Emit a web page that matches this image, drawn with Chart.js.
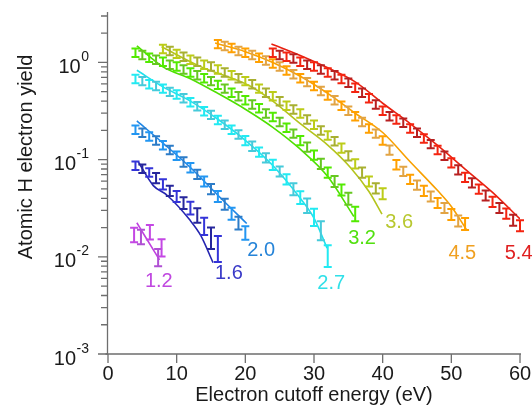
<!DOCTYPE html>
<html><head><meta charset="utf-8">
<script src="https://cdn.jsdelivr.net/npm/chart.js@4.4.1/dist/chart.umd.min.js"></script>
<style>html,body{margin:0;padding:0;background:#fff;}#wrap{width:532px;height:417px;position:relative;}</style>
</head><body><div id="wrap"><canvas id="c"></canvas></div>
<script>
// ---------- DATA ----------
const seriesNames = ['1.2','1.6','2.0','2.7','3.2','3.6','4.5','5.4'];

const x12 = [3.8, 4.8, 6.1, 7.3, 7.8];
const y12 = [0.017, 0.0162, 0.0182, 0.010, 0.0126];
const e12 = [0.17, 0.17, 0.17, 0.2, 0.2];
const tx12 = [4.2, 5.5, 7.5];
const ty12 = [0.0224, 0.0158, 0.0093];

const x16 = [4,5,6,7,8,9,10,11,12,13,14,15,16];
const y16 = [0.087,0.081,0.074,0.065,0.056,0.048,0.042,0.036,0.032,0.027,0.021,0.016,0.0126];
const e16 = [0.1,0.1,0.1,0.12,0.12,0.12,0.13,0.14,0.15,0.17,0.2,0.25,0.3];
const tx16 = [4.4, 6.6, 8.6, 11.9, 13.5, 15.3];
const ty16 = [0.095, 0.054, 0.043, 0.024, 0.0166, 0.0087];

const x20 = [4,5,6,7,8,9,10,11,12,13,14,15,16,17,18,19,20];
const y20 = [0.204,0.19,0.174,0.158,0.141,0.126,0.11,0.095,0.083,0.071,0.060,0.050,0.042,0.035,0.028,0.0224,0.0178];
const e20 = [0.1,0.1,0.1,0.1,0.1,0.1,0.1,0.11,0.11,0.11,0.12,0.12,0.13,0.13,0.14,0.15,0.16];
const tx20 = [4.2, 8, 12, 16, 20.2];
const ty20 = [0.25, 0.148, 0.083, 0.043, 0.022];

const x27 = [4,5,6,7,8,9,10,11,12,13,14,15,16,17,18,19,20,21,22,23,24,25,26,27,28,29,30,31,32];
const y27 = [0.68,0.645,0.60,0.575,0.54,0.50,0.47,0.43,0.39,0.355,0.316,0.29,0.257,0.229,0.204,0.182,0.158,0.138,0.12,0.105,0.089,0.076,0.063,0.050,0.041,0.034,0.026,0.019,0.0105];
const e27 = [0.1,0.1,0.1,0.1,0.1,0.1,0.1,0.1,0.1,0.1,0.1,0.1,0.1,0.1,0.1,0.1,0.11,0.11,0.11,0.11,0.12,0.12,0.12,0.14,0.15,0.17,0.2,0.22,0.25];
const tx27 = [4.2, 8, 12, 16, 20, 24, 28, 30, 31.9];
const ty27 = [0.83, 0.56, 0.40, 0.26, 0.158, 0.087, 0.040, 0.025, 0.0123];

const x32 = [4,5,6,7,8,9,10,11,12,13,14,15,16,17,18,19,20,21,22,23,24,25,26,27,28,29,30,31,32,33,34,35,36];
const y32 = [1.26,1.20,1.12,1.07,1.02,0.95,0.91,0.85,0.79,0.74,0.69,0.645,0.59,0.54,0.49,0.45,0.41,0.37,0.34,0.30,0.275,0.245,0.214,0.186,0.158,0.135,0.112,0.091,0.074,0.060,0.049,0.040,0.028];
const e32 = [0.1,0.1,0.1,0.1,0.1,0.1,0.1,0.1,0.1,0.1,0.1,0.1,0.1,0.1,0.1,0.1,0.1,0.1,0.1,0.1,0.1,0.1,0.1,0.1,0.11,0.11,0.11,0.12,0.12,0.13,0.13,0.14,0.17];
const tx32 = [4.2, 8, 12, 16, 20, 24, 28, 32, 35.8];
const ty32 = [1.48, 0.90, 0.68, 0.48, 0.33, 0.215, 0.128, 0.067, 0.026];

const x36 = [8,9,10,11,12,13,14,15,16,17,18,19,20,21,22,23,24,25,26,27,28,29,30,31,32,33,34,35,36,37,38,39,40];
const y36 = [1.38,1.32,1.23,1.15,1.07,1.02,0.95,0.91,0.85,0.79,0.74,0.69,0.645,0.60,0.54,0.49,0.45,0.40,0.36,0.33,0.30,0.26,0.23,0.20,0.178,0.155,0.132,0.11,0.091,0.074,0.060,0.051,0.045];
const e36 = [0.1,0.1,0.1,0.1,0.1,0.1,0.1,0.1,0.1,0.1,0.1,0.1,0.1,0.1,0.1,0.1,0.1,0.1,0.1,0.1,0.1,0.1,0.1,0.1,0.1,0.1,0.11,0.11,0.11,0.12,0.12,0.12,0.13];
const tx36 = [7.8, 13.4, 20.6, 24, 28, 32, 35.3, 38, 39.9];
const ty36 = [1.45, 0.91, 0.575, 0.40, 0.234, 0.141, 0.083, 0.047, 0.0275];

const x45 = [16,17,18,19,20,21,22,23,24,25,26,27,28,29,30,31,32,33,34,35,36,37,38,39,40,41,42,43,44,45,46,47,48,49,50,51,52];
const y45 = [1.55,1.48,1.41,1.32,1.26,1.20,1.12,1.05,0.98,0.91,0.83,0.76,0.69,0.63,0.575,0.51,0.46,0.41,0.36,0.32,0.28,0.245,0.21,0.186,0.158,0.126,0.089,0.076,0.063,0.055,0.048,0.042,0.036,0.032,0.0275,0.0235,0.022];
const e45 = [0.1,0.1,0.1,0.1,0.1,0.1,0.1,0.1,0.1,0.1,0.1,0.1,0.1,0.1,0.1,0.1,0.1,0.1,0.1,0.1,0.1,0.1,0.1,0.1,0.1,0.11,0.11,0.11,0.11,0.11,0.12,0.12,0.12,0.12,0.13,0.13,0.14];
const tx45 = [15.6, 20, 24, 28, 32, 36, 40, 44, 48, 50, 52.3];
const ty45 = [1.58, 1.29, 1.0, 0.72, 0.48, 0.30, 0.19, 0.095, 0.048, 0.033, 0.0186];

const x54 = [24,25,26,27,28,29,30,31,32,33,34,35,36,37,38,39,40,41,42,43,44,45,46,47,48,49,50,51,52,53,54,55,56,57,58,59,60];
const y54 = [1.26,1.20,1.15,1.10,1.02,0.95,0.91,0.85,0.79,0.74,0.68,0.62,0.55,0.49,0.43,0.37,0.32,0.28,0.26,0.24,0.21,0.19,0.166,0.145,0.126,0.11,0.093,0.079,0.066,0.058,0.050,0.043,0.037,0.032,0.028,0.024,0.021];
const e54 = [0.1,0.1,0.1,0.1,0.1,0.1,0.1,0.1,0.1,0.1,0.1,0.1,0.1,0.1,0.1,0.1,0.1,0.1,0.1,0.1,0.1,0.1,0.1,0.1,0.1,0.1,0.11,0.11,0.11,0.11,0.11,0.12,0.12,0.12,0.12,0.13,0.13];
const tx54 = [23.8, 28, 32, 36, 40, 44, 48, 52, 56, 60];
const ty54 = [1.55, 1.18, 0.88, 0.63, 0.38, 0.235, 0.14, 0.08, 0.046, 0.0245];

const xTicks = [0, 10, 20, 30, 40, 50, 60];
const yDecades = [0.001, 0.01, 0.1, 1];
const yDecadeExp = ['-3', '-2', '-1', '0'];
const xTitle = 'Electron cutoff energy (eV)';
const yTitle = 'Atomic H electron yield';

// ---------- STYLE ----------
const FONT = '"Liberation Sans", Arial, sans-serif';
const styles = [
  {bars:['#c448e4','#b050d4'], line:'#c040e0', text:'#c048e0', at:[7.4, 0.0056]},
  {bars:['#3434d8','#26269c'], line:'#2424b0', text:'#3a3ac8', at:[17.6, 0.0067]},
  {bars:['#2296f2','#2c7cc8'], line:'#1e86e6', text:'#2684d8', at:[22.3, 0.0116]},
  {bars:['#22eaf2','#46cada'], line:'#20e0ec', text:'#30e0e8', at:[32.5, 0.0053]},
  {bars:['#52ea00','#66c820'], line:'#4ee000', text:'#52e010', at:[37.0, 0.0155]},
  {bars:['#bccc18','#a8b030'], line:'#b4c41c', text:'#b8c830', at:[42.4, 0.0225]},
  {bars:['#ffa000','#e2a444'], line:'#f8a000', text:'#f0a020', at:[51.6, 0.0107]},
  {bars:['#f42410','#b82020'], line:'#e82010', text:'#e02020', at:[59.8, 0.0107]}
];

const allSeries = [
  [x12,y12,e12,tx12,ty12],[x16,y16,e16,tx16,ty16],[x20,y20,e20,tx20,ty20],[x27,y27,e27,tx27,ty27],
  [x32,y32,e32,tx32,ty32],[x36,y36,e36,tx36,ty36],[x45,y45,e45,tx45,ty45],[x54,y54,e54,tx54,ty54]
];

const datasets = [];
allSeries.forEach((s, k) => {
  const [xs, ys, es, txs, tys] = s;
  datasets.push({
    label: seriesNames[k] + ' theory',
    data: txs.map((x, i) => ({x, y: tys[i]})),
    borderColor: styles[k].line, borderWidth: 1.6, pointRadius: 0,
    cubicInterpolationMode: 'monotone', fill: false
  });
  datasets.push({
    label: seriesNames[k],
    data: xs.map((x, i) => ({x, y: ys[i]})),
    showLine: false, pointRadius: 0,
    errFrac: es, barColors: styles[k].bars
  });
});

const overlay = {
  id: 'overlay',
  afterDatasetsDraw(chart) {
    const ctx = chart.ctx, X = chart.scales.x, Y = chart.scales.y;
    ctx.save();
    ctx.lineWidth = 2;
    ctx.lineCap = 'butt';
    chart.data.datasets.forEach(ds => {
      if (!ds.errFrac) return;
      ds.data.forEach((p, i) => {
        const e = ds.errFrac[i];
        const px = X.getPixelForValue(p.x);
        const yt = Y.getPixelForValue(p.y * (1 + e));
        const yb = Y.getPixelForValue(p.y * (1 - e));
        ctx.strokeStyle = ds.barColors[i % 2];
        ctx.beginPath();
        ctx.moveTo(px, yt); ctx.lineTo(px, yb);
        ctx.moveTo(px - 4, yt); ctx.lineTo(px + 4, yt);
        ctx.moveTo(px - 4, yb); ctx.lineTo(px + 4, yb);
        ctx.stroke();
      });
    });
    ctx.restore();
  },
  afterDraw(chart) {
    const ctx = chart.ctx, X = chart.scales.x, Y = chart.scales.y, A = chart.chartArea;
    ctx.save();
    ctx.strokeStyle = '#6e6e6e'; ctx.lineWidth = 1.3;
    const ax = A.left - 0.5, ay = A.bottom;
    ctx.beginPath();
    ctx.moveTo(ax, A.top); ctx.lineTo(ax, ay);
    ctx.moveTo(ax - 2, ay); ctx.lineTo(A.right + 1, ay);
    ctx.stroke();
    ctx.beginPath();
    yDecades.forEach(d => {
      for (let m = 1; m <= 9; m++) {
        const v = d * m;
        if (v > Y.max * 1.0001) break;
        const py = Y.getPixelForValue(v);
        ctx.moveTo(ax - (m === 1 ? 9.5 : 6.5), py); ctx.lineTo(ax, py);
      }
    });
    xTicks.forEach(t => {
      const px = X.getPixelForValue(t);
      ctx.moveTo(px, ay); ctx.lineTo(px, ay + 9);
    });
    ctx.stroke();
    ctx.fillStyle = '#1a1a1a';
    ctx.font = '20px ' + FONT; ctx.textAlign = 'center'; ctx.textBaseline = 'alphabetic';
    xTicks.forEach(t => ctx.fillText(String(t), X.getPixelForValue(t), 379.5));
    yDecades.forEach((d, i) => {
      const py = Y.getPixelForValue(d);
      const ex = yDecadeExp[i];
      ctx.font = '14px ' + FONT;
      const we = ctx.measureText(ex).width;
      ctx.font = '20px ' + FONT;
      const wb = ctx.measureText('10').width;
      const right = 89;
      ctx.textAlign = 'left';
      ctx.fillText('10', right - we - wb - 0.5, py + 10.5);
      ctx.font = '14px ' + FONT;
      ctx.fillText(ex, right - we, py - 1.5);
    });
    ctx.font = '20px ' + FONT; ctx.textAlign = 'center';
    ctx.fillText(xTitle, (A.left + A.right) / 2, 401);
    ctx.save();
    ctx.translate(32, 157); ctx.rotate(-Math.PI / 2);
    ctx.fillText(yTitle, 0, 0);
    ctx.restore();
    ctx.font = '20px ' + FONT; ctx.textAlign = 'center'; ctx.textBaseline = 'middle';
    styles.forEach((s, k) => {
      ctx.fillStyle = s.text;
      ctx.fillText(seriesNames[k], X.getPixelForValue(s.at[0]), Y.getPixelForValue(s.at[1]));
    });
    ctx.restore();
  }
};

new Chart(document.getElementById('c'), {
  type: 'line',
  data: { datasets },
  options: {
    responsive: true, maintainAspectRatio: false, animation: false,
    layout: { padding: { left: 108, right: 12, top: 12, bottom: 63 } },
    plugins: { legend: { display: false }, tooltip: { enabled: false } },
    scales: {
      x: { type: 'linear', min: 0, max: 60, display: false },
      y: { type: 'logarithmic', min: 0.001, max: 3.3, display: false }
    }
  },
  plugins: [overlay]
});
</script>
</body></html>
